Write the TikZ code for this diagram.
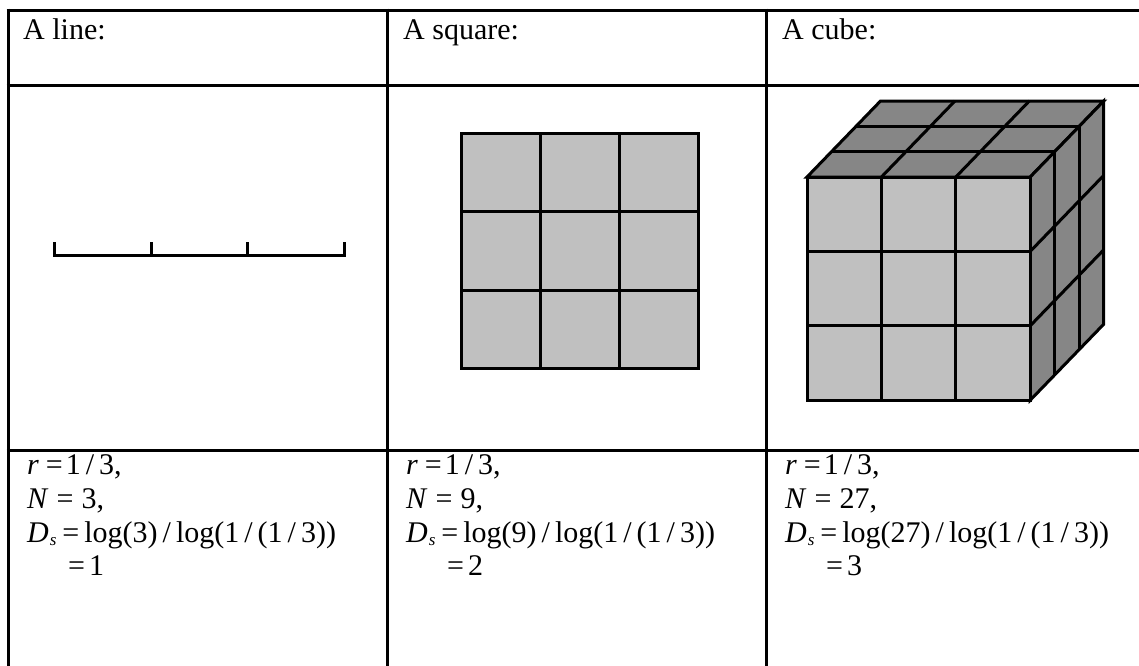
\documentclass[tikz,border=0pt]{standalone}
\usepackage{fontspec}
\setmainfont{Liberation Serif}
\newcommand\thn{\kern5pt}
\newcommand\eqa{\kern7pt=\kern3pt}
\newcommand\eqb{\kern8pt=\kern8pt}
\newcommand\subs[1]{\kern1pt\raisebox{-3pt}{\fontsize{17}{17}\selectfont\textit{#1}}\kern6pt}
\begin{document}
\begin{tikzpicture}[x=1pt,y=-1pt,
  rule/.style={line width=3pt},
  figline/.style={line width=3pt, draw=black},
  lightface/.style={fill=lightg},
  darkface/.style={fill=darkg},
  txt/.style={anchor=base west, inner sep=0pt, font=\fontsize{30}{36}\selectfont}]
\definecolor{lightg}{HTML}{C0C0C0}
\definecolor{darkg}{HTML}{868686}
\useasboundingbox (0,0) rectangle (1139,665);
\clip (0,0) rectangle (1139,665);
\fill[white] (0,0) rectangle (1139,665);
% table
\draw[rule] (6.5,10) -- (1145,10);
\draw[rule] (6.5,85) -- (1145,85);
\draw[rule] (6.5,450) -- (1145,450);
\foreach \x in {8,387,766} \draw[rule] (\x,8.5) -- (\x,670);
% headers
\node[txt] (h1) at (23,39) {A line:};
\node[txt] (h2) at (403,39) {A square:};
\node[txt] (h3) at (782,39) {A cube:};
% line
\draw[figline] (54,242) -- (54,255) -- (344,255) -- (344,242);
\draw[figline] (151,242) -- (151,255);
\draw[figline] (247,242) -- (247,255);
% square
\filldraw[figline,lightface] (461,133) rectangle (698,368);
\draw[figline] (540,133) -- (540,368);
\draw[figline] (619,133) -- (619,368);
\draw[figline] (461,211) -- (698,211);
\draw[figline] (461,290) -- (698,290);
% cube
\filldraw[figline,darkface] (807,177) -- (1030.2,177) -- ++(73.5,-76) -- ++(-223.2,0) -- cycle;
\filldraw[figline,darkface] (1030.2,177) -- ++(73.5,-76) -- ++(0,223.2) -- (1030.2,400.2) -- cycle;
\filldraw[figline,lightface] (807,177) rectangle (1030.2,400.2);
\foreach \i in {1,2} {
  \draw[figline] (807+74.4*\i,177) -- ++(0,223.2);
  \draw[figline] (807,177+74.4*\i) -- ++(223.2,0);
  \draw[figline] (807+74.4*\i,177) -- ++(73.5,-76);
  \draw[figline] (807+24.5*\i,177-25.33*\i) -- ++(223.2,0);
  \draw[figline] (1030.2+24.5*\i,177-25.33*\i) -- ++(0,223.2);
  \draw[figline] (1030.2,177+74.4*\i) -- ++(73.5,-76);
}
% formulas
\node[txt] (a1) at (27,474) {\textit{r}\eqa1\thn/\thn3,};
\node[txt] (a2) at (27,508) {\textit{N}\eqb3,};
\node[txt] (a3) at (27,542) {\textit{D}\subs{s}=\kern5pt log(3)\thn/\thn log(1\thn/\thn(1\thn/\thn3))};
\node[txt] (a4) at (68,575) {=\kern4pt1};
\node[txt] (b1) at (406,474) {\textit{r}\eqa1\thn/\thn3,};
\node[txt] (b2) at (406,508) {\textit{N}\eqb9,};
\node[txt] (b3) at (406,542) {\textit{D}\subs{s}=\kern5pt log(9)\thn/\thn log(1\thn/\thn(1\thn/\thn3))};
\node[txt] (b4) at (447,575) {=\kern4pt2};
\node[txt] (c1) at (785,474) {\textit{r}\eqa1\thn/\thn3,};
\node[txt] (c2) at (785,508) {\textit{N}\eqb27,};
\node[txt] (c3) at (785,542) {\textit{D}\subs{s}=\kern5pt log(27)\thn/\thn log(1\thn/\thn(1\thn/\thn3))};
\node[txt] (c4) at (826,575) {=\kern4pt3};
\end{tikzpicture}
\end{document}
